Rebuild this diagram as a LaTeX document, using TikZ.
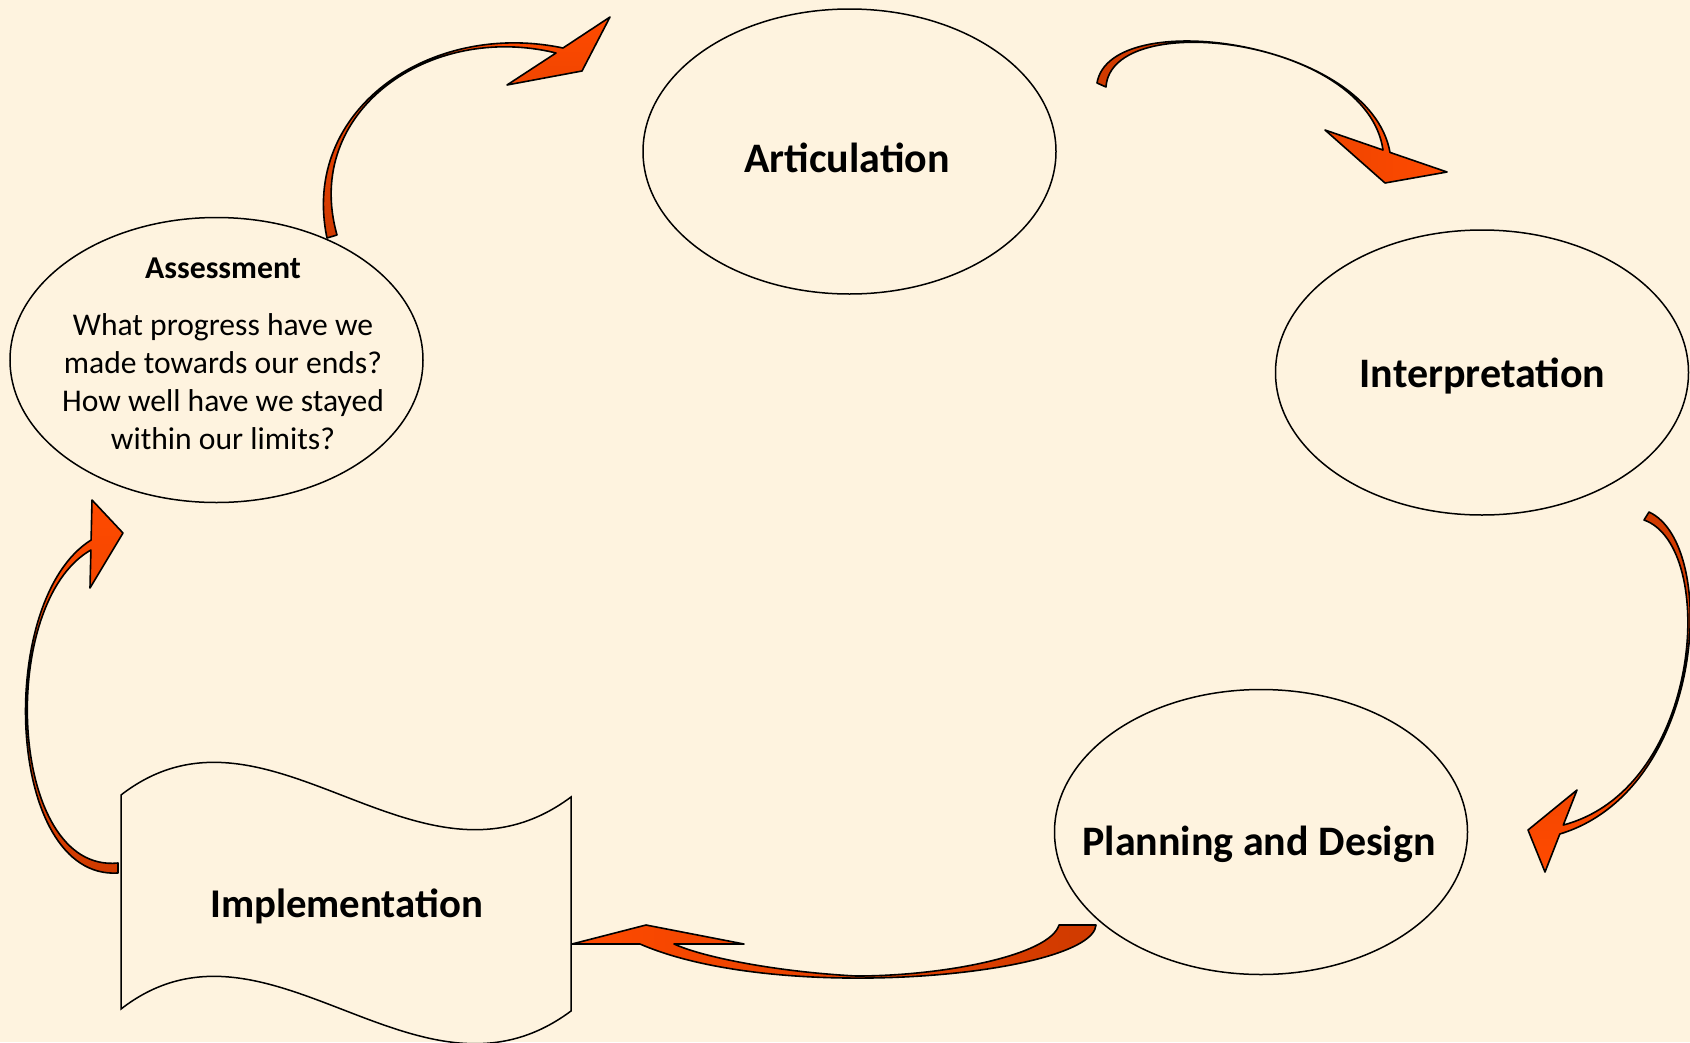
\documentclass[tikz,border=0pt]{standalone}
\usepackage{fontspec}
\setmainfont{Carlito}
\usetikzlibrary{shapes.geometric}
\definecolor{bg}{HTML}{FEF3DF}
\definecolor{orB}{HTML}{FF4A00}
\definecolor{orD}{HTML}{CF3A00}
\begin{document}
\begin{tikzpicture}[x=1pt,y=-1pt,
  bubble/.style={ellipse, draw=black, line width=1.5pt, fill=bg, minimum width=413pt, minimum height=285pt, inner sep=0pt},
  bigtxt/.style={font=\bfseries\fontsize{42}{50}\selectfont, anchor=base, inner sep=0pt},
  smalltxt/.style={font=\fontsize{31.6}{38}\selectfont, anchor=base, inner sep=0pt},
  bandarrow/.style={draw=black, line width=1.6pt, line join=round},
  wave/.style={draw=black, line width=1.5pt, fill=bg}
]
\useasboundingbox (0,0) rectangle (1690,1042);
\fill[bg] (0,0) rectangle (1690,1042);

% ellipses
\node[bubble] (art) at (849.5,151.5) {};
\node[bubble] (interp) at (1482,372.5) {};
\node[bubble] (plan) at (1261,832) {};
\node[bubble] (assess) at (216.5,360) {};

% implementation wave shape
\draw[wave] (121,795) .. controls (268,681) and (418,911) .. (571,797) -- (571,1011)
  .. controls (418,1125) and (268,895) .. (121,1009) -- cycle;

% texts
\node[bigtxt] (artT) at (847,172) {Articulation};
\node[bigtxt] (interpT) at (1482.5,387) {Interpretation};
\node[bigtxt] (planT) at (1259,855) {Planning and Design};
\node[bigtxt, font=\bfseries\fontsize{40.8}{48}\selectfont] (impl) at (346.7,917) {Implementation};
\node[smalltxt, font=\bfseries\fontsize{31.8}{38}\selectfont] (assT) at (223,278) {Assessment};
\node[smalltxt] (assL1) at (223,335) {What progress have we};
\node[smalltxt] (assL2) at (223,373.3) {made towards our ends?};
\node[smalltxt] (assL3) at (223,411.7) {How well have we stayed};
\node[smalltxt] (assL4) at (223,449.3) {within our limits?};

% curved arrows
% Assessment -> Articulation
\path[bandarrow, top color=orB, bottom color=orD]
  (327,238) .. controls (300,110) and (430,20) .. (563,48)
  -- (610,17) -- (582,71) -- (507,85) -- (556,53)
  .. controls (430,22) and (302,111) .. (337,235) -- cycle;
% Articulation -> Interpretation
\path[bandarrow, left color=orD, right color=orB]
  (1097,83) .. controls (1110,5) and (1370,40) .. (1390,152.4)
  -- (1447,172) -- (1385,183) -- (1325,130) -- (1383,150)
  .. controls (1367,38) and (1111,7) .. (1106,87) -- cycle;
% Interpretation -> Planning
\path[bandarrow, top color=orD, bottom color=orB]
  (1649,512) .. controls (1720,545) and (1705,790) .. (1559.8,834)
  -- (1545,872) -- (1528,830) -- (1577,790) -- (1563.3,825)
  .. controls (1703,788) and (1718,546) .. (1644,520) -- cycle;
% Planning -> Implementation
\path[bandarrow, left color=orB, right color=orD]
  (1096,925) .. controls (1092,975) and (780,1005) .. (640,944)
  -- (572,944) -- (646,925) -- (744,944) -- (674,944)
  .. controls (705,958) and (780,972) .. (856,976)
  .. controls (945,976) and (1050,955) .. (1059,925) -- cycle;
% Implementation -> Assessment
\path[bandarrow, top color=orB, bottom color=orD]
  (118,873) .. controls (5,880) and (-5,600) .. (91.1,540)
  -- (92,500) -- (123,533) -- (90,588) -- (90.9,550)
  .. controls (-3,603) and (8,874) .. (118,863) -- cycle;
\end{tikzpicture}
\end{document}
